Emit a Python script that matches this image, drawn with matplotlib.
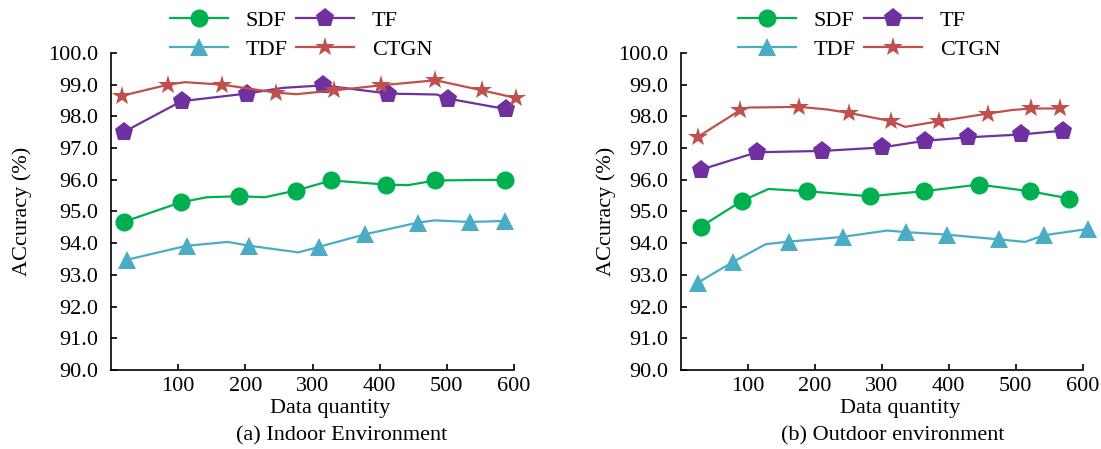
import matplotlib
matplotlib.use("Agg")
import matplotlib.pyplot as plt
from matplotlib.lines import Line2D

plt.rcParams['font.family'] = ['Liberation Serif', 'DejaVu Serif']
plt.rcParams['mathtext.fontset'] = 'stix'

# ---------------- data ----------------
# (a) Indoor
in_sdf_x = [20, 104, 143, 190, 229, 275, 328, 409, 442, 483, 586]
in_sdf_y = [94.68, 95.29, 95.45, 95.48, 95.45, 95.66, 95.98, 95.85, 95.83, 95.98, 96.00]
in_sdf_m = [0, 1, 3, 5, 6, 7, 9, 10]

in_tdf_x = [24, 113, 174, 206, 279, 309, 378, 457, 482, 534, 586]
in_tdf_y = [93.48, 93.92, 94.04, 93.92, 93.71, 93.88, 94.28, 94.65, 94.72, 94.67, 94.70]
in_tdf_m = [0, 1, 3, 5, 6, 7, 9, 10]

in_tf_x = [20, 105, 202, 256, 316, 413, 485, 502, 588]
in_tf_y = [97.52, 98.48, 98.72, 98.90, 98.98, 98.72, 98.69, 98.56, 98.23]
in_tf_m = [0, 1, 2, 4, 5, 7, 8]

in_ctgn_x = [16, 85, 110, 166, 246, 276, 332, 402, 483, 553, 603]
in_ctgn_y = [98.65, 99.00, 99.08, 99.00, 98.75, 98.70, 98.82, 98.98, 99.14, 98.82, 98.58]
in_ctgn_m = [0, 1, 3, 4, 6, 7, 8, 9, 10]

# (b) Outdoor
out_sdf_x = [30, 91, 131, 188, 282, 363, 445, 521, 580]
out_sdf_y = [94.52, 95.33, 95.71, 95.64, 95.48, 95.64, 95.85, 95.64, 95.41]
out_sdf_m = [0, 1, 3, 4, 5, 6, 7, 8]

out_tdf_x = [26, 78, 127, 162, 242, 308, 336, 397, 475, 514, 542, 608]
out_tdf_y = [92.76, 93.41, 93.97, 94.05, 94.20, 94.40, 94.35, 94.27, 94.12, 94.04, 94.25, 94.45]
out_tdf_m = [0, 1, 3, 4, 6, 7, 8, 10, 11]

out_tf_x = [30, 114, 211, 300, 364, 429, 508, 570]
out_tf_y = [96.32, 96.87, 96.91, 97.02, 97.23, 97.34, 97.43, 97.55]
out_tf_m = [0, 1, 2, 3, 4, 5, 6, 7]

out_ctgn_x = [26, 89, 102, 177, 218, 251, 314, 335, 386, 459, 494, 523, 566]
out_ctgn_y = [97.36, 98.20, 98.28, 98.30, 98.22, 98.11, 97.85, 97.67, 97.85, 98.09, 98.20, 98.25, 98.25]
out_ctgn_m = [0, 1, 3, 5, 6, 8, 9, 11, 12]

series_names = ["SDF", "TDF", "TF", "CTGN"]
x_ticks = [100, 200, 300, 400, 500, 600]
y_ticks = [90.0, 91.0, 92.0, 93.0, 94.0, 95.0, 96.0, 97.0, 98.0, 99.0, 100.0]
panel_titles = ["(a) Indoor Environment", "(b) Outdoor environment"]

# ---------------- style ----------------
colors = {"SDF": "#00B050", "TDF": "#4BACC6", "TF": "#7030A0", "CTGN": "#C0504D"}
markers = {"SDF": "o", "TDF": "^", "TF": "p", "CTGN": "*"}
msizes = {"SDF": 13, "TDF": 12.5, "TF": 14, "CTGN": 14.5}
FS = 16

fig = plt.figure(figsize=(11.01, 4.49), dpi=100)
ax1 = fig.add_axes([111 / 1101, 1 - 370 / 449, 403 / 1101, 317 / 449])
ax2 = fig.add_axes([680.7 / 1101, 1 - 370 / 449, 402 / 1101, 317 / 449])

panels = [
    (ax1, [(in_sdf_x, in_sdf_y, in_sdf_m), (in_tdf_x, in_tdf_y, in_tdf_m),
           (in_tf_x, in_tf_y, in_tf_m), (in_ctgn_x, in_ctgn_y, in_ctgn_m)]),
    (ax2, [(out_sdf_x, out_sdf_y, out_sdf_m), (out_tdf_x, out_tdf_y, out_tdf_m),
           (out_tf_x, out_tf_y, out_tf_m), (out_ctgn_x, out_ctgn_y, out_ctgn_m)]),
]

for ax, data in panels:
    for name, (xs, ys, mk) in zip(series_names, data):
        ax.plot(xs, ys, color=colors[name], lw=1.6, marker=markers[name],
                markersize=msizes[name], markevery=mk, markeredgewidth=0,
                clip_on=False, zorder=3)
    ax.set_xlim(0, 600)
    ax.set_ylim(90, 100)
    ax.set_xticks(x_ticks)
    ax.set_xticklabels([str(t) for t in x_ticks])
    ax.set_yticks(y_ticks)
    ax.set_yticklabels(["%.1f" % t for t in y_ticks])
    for s in ["top", "right"]:
        ax.spines[s].set_visible(False)
    for s in ["left", "bottom"]:
        ax.spines[s].set_linewidth(1.2)
    ax.tick_params(direction="in", length=4, width=1.2, labelsize=FS)
    ax.tick_params(axis="x", pad=5)
    ax.tick_params(axis="y", pad=9)

# axis labels and captions
fig.text(330 / 1101, 1 - 409 / 449, "Data quantity", ha="center", va="center", fontsize=FS)
fig.text(342 / 1101, 1 - 436 / 449, panel_titles[0], ha="center", va="center", fontsize=FS)
fig.text(900 / 1101, 1 - 409 / 449, "Data quantity", ha="center", va="center", fontsize=FS)
fig.text(893 / 1101, 1 - 436 / 449, panel_titles[1], ha="center", va="center", fontsize=FS)
fig.text(22 / 1101, 1 - 211 / 449, "ACcuracy (%)", rotation=90, ha="center", va="center", fontsize=FS)
fig.text(606 / 1101, 1 - 211 / 449, "ACcuracy (%)", rotation=90, ha="center", va="center", fontsize=FS)

# legends
handles = [Line2D([], [], color=colors[n], lw=1.6, marker=markers[n], markersize=msizes[n],
                  markeredgewidth=0) for n in series_names]
for cx in [301, 869]:
    fig.legend(handles, series_names, loc="upper center", ncol=2,
               bbox_to_anchor=(cx / 1101, 1.0), frameon=False, fontsize=FS,
               handlelength=2.6, handletextpad=0.8, columnspacing=0.4,
               labelspacing=0.4, borderaxespad=0.05)

fig.savefig("out.png", dpi=100)
